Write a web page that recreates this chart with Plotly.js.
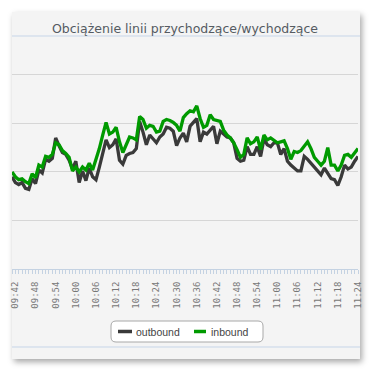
<!DOCTYPE html>
<html><head><meta charset="utf-8">
<script src="https://cdn.plot.ly/plotly-3.0.1.min.js"></script>
<style>
html,body{margin:0;padding:0;background:#fff;width:370px;height:370px;overflow:hidden}
#card{position:absolute;left:12px;top:12px;width:348px;height:347px;background:#f4f4f4;box-shadow:2px 3px 6px rgba(0,0,0,0.35)}
#chart{position:absolute;left:0;top:0;width:370px;height:370px}
</style></head><body>
<div id="card"></div><div id="chart"></div>
<script>
const times = ["09:41","09:42","09:43","09:44","09:45","09:46","09:47","09:48","09:49","09:50","09:51","09:52","09:53","09:54","09:55","09:56","09:57","09:58","09:59",
"10:00","10:01","10:02","10:03","10:04","10:05","10:06","10:07","10:08","10:09","10:10","10:11","10:12","10:13","10:14","10:15","10:16","10:17","10:18","10:19",
"10:20","10:21","10:22","10:23","10:24","10:25","10:26","10:27","10:28","10:29","10:30","10:31","10:32","10:33","10:34","10:35","10:36","10:37","10:38","10:39",
"10:40","10:41","10:42","10:43","10:44","10:45","10:46","10:47","10:48","10:49","10:50","10:51","10:52","10:53","10:54","10:55","10:56","10:57","10:58","10:59",
"11:00","11:01","11:02","11:03","11:04","11:05","11:06","11:07","11:08","11:09","11:10","11:11","11:12","11:13","11:14","11:15","11:16","11:17","11:18","11:19",
"11:20","11:21","11:22","11:23","11:24"];
const outbound = [95,89,87,89,83,82,93,88,102,99,113,111,114,135,127,120,118,112,103,111,89,101,91,104,95,92,105,118,133,125,128,134,112,108,117,119,120,124,152,141,128,138,134,130,136,139,146,145,142,127,135,140,
131,147,151,155,131,141,139,143,147,129,142,139,136,135,130,114,111,112,126,118,118,126,116,134,128,126,130,130,118,124,111,107,104,101,101,116,113,109,106,101,97,104,99,93,92,86,95,107,103,105,111,116];
const inbound = [100,95,92,93,90,88,98,94,107,105,116,115,118,130,128,122,119,115,101,105,100,105,102,109,102,112,124,138,151,139,141,146,131,120,128,136,135,133,157,154,145,148,147,141,142,152,154,153,151,148,142,156,
160,163,162,168,155,146,148,159,154,153,152,143,138,135,130,123,115,118,135,129,131,136,123,138,133,135,132,130,131,132,124,113,121,120,122,126,131,124,115,111,107,111,125,107,107,101,107,117,118,115,120,124];
const seriesNames = ["outbound","inbound"];
const titleText = "Obciążenie linii przychodzące/wychodzące";

const day = "2000-01-01 ";
const xs = times.map(t => day + t + ":00");

// pixel -> paper helpers (plot area: x 12..358, y 36..269)
const PL = 12, PR = 358, PT = 36, PB = 269;
const px = v => (v - PL) / (PR - PL);
const py = v => (PB - v) / (PB - PT);

const traces = [
  {x: xs, y: outbound, name: seriesNames[0], type: "scatter", mode: "lines",
   line: {color: "#3a3a3a", width: 3.3}, showlegend: false},
  {x: xs, y: inbound, name: seriesNames[1], type: "scatter", mode: "lines",
   line: {color: "#009a00", width: 3.3}, showlegend: false}
];

// rounded legend box
const bx0 = px(111), bx1 = px(263), by0 = py(342), by1 = py(321);
const rx = 5 / (PR - PL), ry = 5 / (PB - PT);
const boxPath = `M${bx0+rx},${by1} L${bx1-rx},${by1} Q${bx1},${by1} ${bx1},${by1-ry} L${bx1},${by0+ry} Q${bx1},${by0} ${bx1-rx},${by0} L${bx0+rx},${by0} Q${bx0},${by0} ${bx0},${by0+ry} L${bx0},${by1-ry} Q${bx0},${by1} ${bx0+rx},${by1} Z`;
const ly = py(331.5);
const sepColor = "#c6d5e8";

const layout = {
  width: 370, height: 370,
  margin: {l: 12, r: 12, t: 36, b: 101, pad: 0},
  paper_bgcolor: "rgba(0,0,0,0)", plot_bgcolor: "rgba(0,0,0,0)",
  showlegend: false,
  title: {text: titleText, x: 0.5, xref: "paper", y: 1 - 29/370, yref: "container", yanchor: "middle",
          font: {family: "DejaVu Sans", size: 12.5, color: "#555b62"}},
  xaxis: {type: "date", range: [day + "09:41:00", day + "11:24:00"],
          tickformat: "%H:%M", tick0: day + "09:42:00", dtick: 360000, tickangle: -90,
          tickfont: {family: "DejaVu Sans Mono", size: 9, color: "#777"},
          showline: true, linecolor: "#c4d2e2", linewidth: 1,
          ticks: "outside", ticklen: 4, tickcolor: "#c4d2e2", tickwidth: 1,
          minor: {dtick: 60000, ticks: "outside", ticklen: 4, tickcolor: "#c4d2e2", tickwidth: 1, showgrid: false},
          ticklabelstandoff: 4,
          showgrid: false, zeroline: false, fixedrange: true},
  yaxis: {range: [0, 240], tick0: 0, dtick: 50, showgrid: true, gridcolor: "#d6d6d6", gridwidth: 1,
          showticklabels: false, zeroline: false, ticks: "", showline: false, fixedrange: true},
  shapes: [
    {type: "line", xref: "paper", yref: "paper", x0: 0, x1: px(360), y0: 1, y1: 1, line: {color: sepColor, width: 1}},
    {type: "line", xref: "paper", yref: "paper", x0: 0, x1: px(360), y0: py(347), y1: py(347), line: {color: sepColor, width: 1}},
    {type: "path", xref: "paper", yref: "paper", path: boxPath, fillcolor: "#ffffff", line: {color: "#a8a8a8", width: 1}},
    {type: "line", xref: "paper", yref: "paper", x0: px(118), x1: px(132), y0: ly, y1: ly, line: {color: "#3a3a3a", width: 3.5}},
    {type: "line", xref: "paper", yref: "paper", x0: px(194), x1: px(206), y0: ly, y1: ly, line: {color: "#009a00", width: 3.5}}
  ],
  annotations: [
    {xref: "paper", yref: "paper", x: px(134), y: ly, xanchor: "left", yanchor: "middle", showarrow: false,
     text: seriesNames[0], font: {family: "Liberation Sans", size: 10.5, color: "#444"}},
    {xref: "paper", yref: "paper", x: px(209), y: ly, xanchor: "left", yanchor: "middle", showarrow: false,
     text: seriesNames[1], font: {family: "Liberation Sans", size: 10.5, color: "#444"}}
  ]
};

Plotly.newPlot("chart", traces, layout, {displayModeBar: false, staticPlot: true});
</script></body></html>
